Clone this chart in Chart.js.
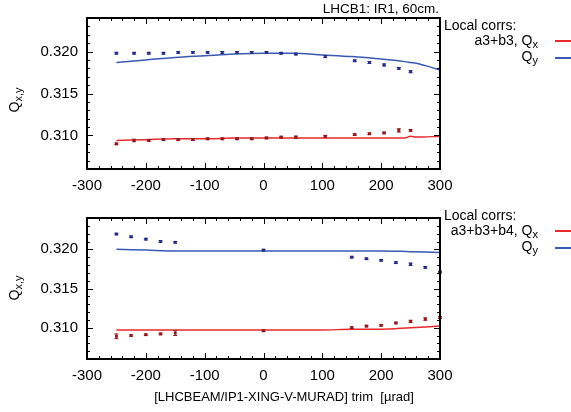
<!DOCTYPE html>
<html>
<head>
<meta charset="utf-8">
<script src="https://cdn.jsdelivr.net/npm/chart.js@4"></script>
<style>
  body { margin: 0; background: #fff; font-family: "Liberation Sans", Arial, sans-serif; }
  #wrap { position: relative; width: 571px; height: 412px; overflow: hidden; }
  canvas { position: absolute; left: 0; }
  .t { position: absolute; font-size: 14px; color: #000; white-space: nowrap; line-height: 1; }
  .t sub { font-size: 11px; vertical-align: -3px; line-height: 0; }
  .ln { position: absolute; height: 1.5px; width: 18px; }
  .ylab { position: absolute; font-size: 14px; transform: translate(-50%, -50%) rotate(-90deg); white-space: nowrap; }
  .ylab sub { font-size: 11px; vertical-align: -3px; line-height: 0; }
</style>
</head>
<body>
<div id="wrap">
  <canvas id="top" width="571" height="200" style="top:0"></canvas>
  <canvas id="bot" width="571" height="212" style="top:200px"></canvas>

  <div class="t" style="right:132px; top:2px; font-size:13.5px;">LHCB1: IR1, 60cm.</div>
  <div class="t" style="left:444px; top:18px;">Local corrs:</div>
  <div class="t" style="right:33px; top:33px;">a3+b3, Q<sub>x</sub></div>
  <div class="t" style="right:33px; top:49px;">Q<sub>y</sub></div>
  <div class="ln" style="left:555px; top:40px; background:#e8282c"></div>
  <div class="ln" style="left:555px; top:57px; background:#3a58b4"></div>

  <div class="t" style="left:444px; top:208px;">Local corrs:</div>
  <div class="t" style="right:33px; top:223px;">a3+b3+b4, Q<sub>x</sub></div>
  <div class="t" style="right:33px; top:239px;">Q<sub>y</sub></div>
  <div class="ln" style="left:555px; top:230px; background:#e8282c"></div>
  <div class="ln" style="left:555px; top:247px; background:#3a58b4"></div>

  <div class="ylab" style="left:14px; top:100px;">Q<sub>x,y</sub></div>
  <div class="ylab" style="left:14px; top:288px;">Q<sub>x,y</sub></div>

  <div class="t" style="left:284px; top:390px; font-size:13px; transform:translateX(-50%);">[LHCBEAM/IP1-XING-V-MURAD] trim &nbsp;[µrad]</div>
</div>
<script>
// x tick labels and y tick values
const xTicks = [-300, -200, -100, 0, 100, 200, 300];
const yTicks = [0.310, 0.315, 0.320];

// top panel (a3+b3): measured points
const xTop = [-250, -220, -195, -170, -145, -120, -95, -70, -45, -20, 5, 30, 55, 105, 155, 180, 205, 230, 250];
const qxTop = [0.3090, 0.3094, 0.3094, 0.3095, 0.3095, 0.3095, 0.3096, 0.3096, 0.3096, 0.3096, 0.3097, 0.3098, 0.3098, 0.3099, 0.3101, 0.3102, 0.3103, 0.3106, 0.3106];
const qxTopErr = [0.0001, 0.00015, 0.0001, 0.0001, 0.0001, 0.0001, 0.0001, 0.0001, 0.0001, 0.0001, 0.0001, 0.0001, 0.00012, 0.0001, 0.0001, 0.0001, 0.0001, 0.0002, 0.0001];
const qyTop = [0.3198, 0.3198, 0.3198, 0.3198, 0.3199, 0.3199, 0.3199, 0.3199, 0.3199, 0.3199, 0.3199, 0.3198, 0.3197, 0.3194, 0.3189, 0.3187, 0.3184, 0.3180, 0.3176];
const qyTopErr = [0.0001, 0.0001, 0.0001, 0.0001, 0.0001, 0.0001, 0.0001, 0.0001, 0.0001, 0.0001, 0.0001, 0.0001, 0.0001, 0.00012, 0.0001, 0.00012, 0.00012, 0.0001, 0.00012];

// top panel: model curves
const xTopFit = [-250, -200, -150, -100, -50, 0, 50, 100, 150, 200, 240, 250, 260, 300];
const qxTopFit = [0.3094, 0.3095, 0.3096, 0.3096, 0.3097, 0.3097, 0.3097, 0.3097, 0.3097, 0.3097, 0.3097, 0.3099, 0.3098, 0.3099];
const qyTopFit = [0.3187, 0.3190, 0.3193, 0.3195, 0.3197, 0.3198, 0.3198, 0.3196, 0.3194, 0.3191, 0.3188, 0.3187, 0.3186, 0.3178];

// bottom panel (a3+b3+b4): measured points
const xBot = [-250, -225, -200, -175, -150, 0, 150, 175, 200, 225, 250, 275, 300];
const qxBot = [0.3089, 0.3090, 0.3091, 0.3092, 0.3093, 0.3096, 0.3100, 0.3102, 0.3103, 0.3106, 0.3108, 0.3111, 0.3113];
const qxBotErr = [0.0003, 0.0001, 0.0001, 0.0001, 0.0003, 0.0001, 0.0001, 0.0001, 0.0001, 0.0001, 0.00015, 0.00015, 0.0001];
const qyBot = [0.32195, 0.3216, 0.3213, 0.3210, 0.3209, 0.3199, 0.3190, 0.3188, 0.3186, 0.3183, 0.3181, 0.3177, 0.3171];
const qyBotErr = [0.0001, 0.0001, 0.0001, 0.0001, 0.0001, 0.0001, 0.0001, 0.0001, 0.0001, 0.0001, 0.00015, 0.0001, 0.0001];

// bottom panel: model curves
const xBotFit = [-250, -200, -150, -100, -50, 0, 50, 100, 150, 200, 250, 300];
const qxBotFit = [0.3097, 0.3097, 0.3097, 0.3097, 0.3097, 0.3097, 0.3097, 0.3097, 0.3098, 0.3098, 0.3100, 0.3102];
const qyBotFit = [0.3200, 0.3199, 0.3198, 0.3198, 0.3198, 0.3198, 0.3198, 0.3198, 0.3198, 0.3198, 0.3197, 0.3196];

const RED_LINE = '#e8282c', BLUE_LINE = '#3a58b4';
const RED_PT = '#8e1a1e', BLUE_PT = '#252c80';

const pts = (xs, ys) => xs.map((x, i) => ({ x: x, y: ys[i] }));

// error bars + frame + inward ticks
const decor = {
  id: 'decor',
  afterDatasetsDraw(chart) {
    const ctx = chart.ctx, a = chart.chartArea;
    const xs = chart.scales.x, ys = chart.scales.y;
    ctx.save();
    chart.data.datasets.forEach(ds => {
      if (!ds.err) return;
      ctx.strokeStyle = ds.pointBackgroundColor;
      ctx.lineWidth = 1;
      ds.data.forEach((p, i) => {
        const px = xs.getPixelForValue(p.x);
        const y1 = ys.getPixelForValue(p.y - ds.err[i]);
        const y2 = ys.getPixelForValue(p.y + ds.err[i]);
        ctx.beginPath();
        ctx.moveTo(px, y1); ctx.lineTo(px, y2);
        ctx.moveTo(px - 2, y1); ctx.lineTo(px + 2, y1);
        ctx.moveTo(px - 2, y2); ctx.lineTo(px + 2, y2);
        ctx.stroke();
      });
    });
    ctx.strokeStyle = '#000';
    ctx.lineWidth = 1;
    ctx.beginPath();
    for (let v = -280; v < 300; v += 20) {
      const px = Math.round(xs.getPixelForValue(v)) + 0.5;
      const len = v % 100 === 0 ? 6 : 3;
      ctx.moveTo(px, a.bottom); ctx.lineTo(px, a.bottom - len);
      ctx.moveTo(px, a.top); ctx.lineTo(px, a.top + len);
    }
    for (let k = 307; k <= 323; k++) {
      const py = Math.round(ys.getPixelForValue(k / 1000)) + 0.5;
      const len = k % 5 === 0 ? 6 : 3;
      ctx.moveTo(a.left, py); ctx.lineTo(a.left + len, py);
      ctx.moveTo(a.right, py); ctx.lineTo(a.right - len, py);
    }
    ctx.stroke();
    ctx.lineWidth = 2;
    ctx.strokeRect(a.left, a.top, a.right - a.left, a.bottom - a.top);
    ctx.restore();
  }
};

function makeChart(id, padTop, xAxisH, data) {
  const lineDs = (xs, ys, c) => ({
    type: 'line', data: pts(xs, ys), borderColor: c, borderWidth: 1.5,
    pointRadius: 0, cubicInterpolationMode: 'monotone', fill: false, order: 2
  });
  const ptDs = (xs, ys, err, c) => ({
    type: 'scatter', data: pts(xs, ys), err: err, showLine: false, clip: 4,
    pointStyle: 'rect', pointRadius: 2, pointBackgroundColor: c, pointBorderColor: c,
    pointBorderWidth: 0, order: 1
  });
  return new Chart(document.getElementById(id), {
    type: 'scatter',
    data: {
      datasets: [
        lineDs(data.fx, data.fqx, RED_LINE),
        lineDs(data.fx, data.fqy, BLUE_LINE),
        ptDs(data.x, data.qx, data.qxErr, RED_PT),
        ptDs(data.x, data.qy, data.qyErr, BLUE_PT)
      ]
    },
    options: {
      responsive: false,
      animation: false,
      layout: { padding: { top: padTop, right: 131, left: 0, bottom: 0 } },
      plugins: { legend: { display: false }, tooltip: { enabled: false } },
      scales: {
        x: {
          type: 'linear', min: -300, max: 300,
          grid: { display: false, drawTicks: false },
          border: { display: false },
          afterBuildTicks: s => { s.ticks = xTicks.map(v => ({ value: v })); },
          afterFit: s => { s.height = xAxisH; },
          ticks: { padding: 8, color: '#000', font: { family: 'Liberation Sans', size: 15 }, maxRotation: 0 }
        },
        y: {
          type: 'linear', min: 0.306, max: 0.324,
          grid: { display: false, drawTicks: false },
          border: { display: false },
          afterBuildTicks: s => { s.ticks = yTicks.map(v => ({ value: v })); },
          afterFit: s => { s.width = 87; },
          ticks: { padding: 9, color: '#000', font: { family: 'Liberation Sans', size: 15 }, callback: v => v.toFixed(3) }
        }
      }
    },
    plugins: [decor]
  });
}

makeChart('top', 18, 31, {
  x: xTop, qx: qxTop, qxErr: qxTopErr, qy: qyTop, qyErr: qyTopErr,
  fx: xTopFit, fqx: qxTopFit, fqy: qyTopFit
});
makeChart('bot', 8, 53, {
  x: xBot, qx: qxBot, qxErr: qxBotErr, qy: qyBot, qyErr: qyBotErr,
  fx: xBotFit, fqx: qxBotFit, fqy: qyBotFit
});
</script>
</body>
</html>
